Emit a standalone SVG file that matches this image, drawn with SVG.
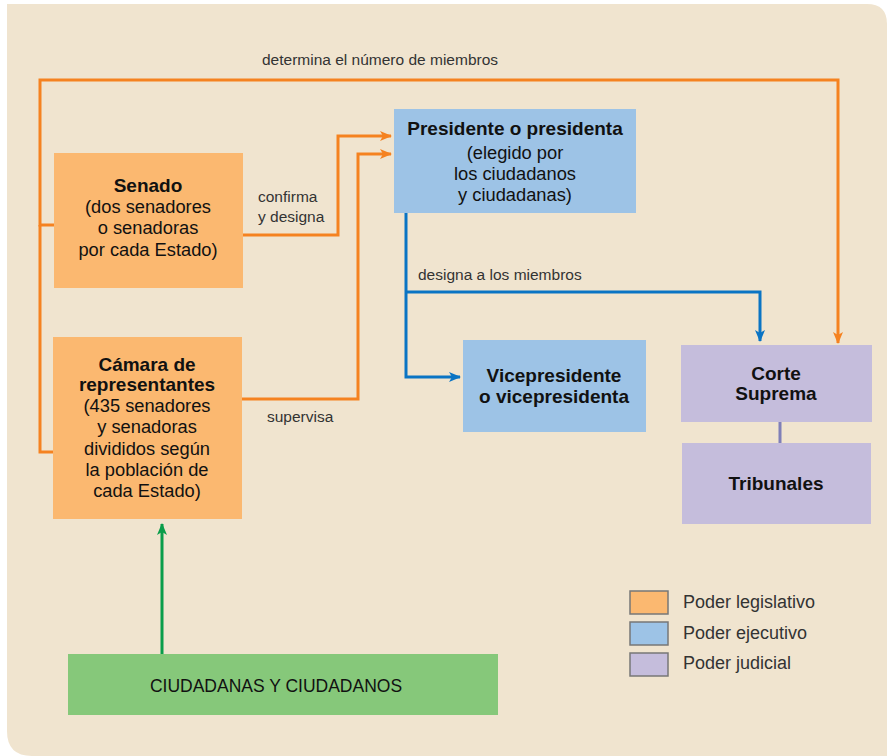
<svg xmlns="http://www.w3.org/2000/svg" width="887" height="756" viewBox="0 0 887 756">
<style>
text{font-family:"Liberation Sans",Arial,sans-serif;fill:#111;text-anchor:middle}
.b{font-weight:bold;font-size:19px}
.n{font-size:18.3px}
.l{font-size:15.5px;fill:#333;text-anchor:start}
.lg{font-size:18px;fill:#333;text-anchor:start}
.or{fill:none;stroke:#f58220;stroke-width:3}
.bl{fill:none;stroke:#0a74c4;stroke-width:3}
.leg{fill:#fbb870}.exe{fill:#9dc3e6}.jud{fill:#c5bddc}
.sw{stroke:#777;stroke-width:1.5}
</style>
<defs>
<marker id="ao" markerWidth="12" markerHeight="10" refX="11" refY="5" orient="auto" markerUnits="userSpaceOnUse"><path d="M0,0 L12,5 L0,10 L3,5 z" fill="#f58220"/></marker>
<marker id="ab" markerWidth="12" markerHeight="10" refX="11" refY="5" orient="auto" markerUnits="userSpaceOnUse"><path d="M0,0 L12,5 L0,10 L3,5 z" fill="#0a74c4"/></marker>
<marker id="ag" markerWidth="12" markerHeight="10" refX="11" refY="5" orient="auto" markerUnits="userSpaceOnUse"><path d="M0,0 L12,5 L0,10 L3,5 z" fill="#0a9d4a"/></marker>
</defs>
<path d="M7,4 H867 Q887,4 887,24 V756 H32 Q7,756 7,731 Z" fill="#f0e4cf"/>
<g id="connectors">
<path class="or" d="M54,225 H40 V80 H838 V343" marker-end="url(#ao)"/>
<path class="or" d="M53,452 H40 V225"/>
<path class="or" d="M243,235 H338 V136 H391" marker-end="url(#ao)"/>
<path class="or" d="M242,399 H358 V154 H391" marker-end="url(#ao)"/>
<path class="bl" d="M406,213 V377 H460" marker-end="url(#ab)"/>
<path class="bl" d="M406,292 H760 V341" marker-end="url(#ab)"/>
<path d="M780,422 V443" stroke="#7f7fb8" stroke-width="3"/>
<path d="M162,654 V524" stroke="#0a9d4a" stroke-width="3" fill="none" marker-end="url(#ag)"/>
<text class="l" x="262" y="65">determina el número de miembros</text>
<text class="l" x="258" y="202">confirma</text>
<text class="l" x="258" y="222">y designa</text>
<text class="l" x="267" y="422">supervisa</text>
<text class="l" x="418" y="280">designa a los miembros</text>
</g>
<g id="senado">
<rect class="leg" x="54" y="153" width="189" height="135"/>
<text class="b" x="148" y="192">Senado</text>
<text class="n" x="148" y="213">(dos senadores</text>
<text class="n" x="148" y="234">o senadoras</text>
<text class="n" x="148" y="256">por cada Estado)</text>
</g>
<g id="camara">
<rect class="leg" x="53" y="337" width="189" height="182"/>
<text class="b" x="147" y="371">Cámara de</text>
<text class="b" x="147" y="391">representantes</text>
<text class="n" x="147" y="412">(435 senadores</text>
<text class="n" x="147" y="433">y senadoras</text>
<text class="n" x="147" y="455">divididos según</text>
<text class="n" x="147" y="476">la población de</text>
<text class="n" x="147" y="497">cada Estado)</text>
</g>
<g id="presidente">
<rect class="exe" x="394" y="109" width="242" height="104"/>
<text class="b" x="515" y="135">Presidente o presidenta</text>
<text class="n" x="515" y="159">(elegido por</text>
<text class="n" x="515" y="180">los ciudadanos</text>
<text class="n" x="515" y="201">y ciudadanas)</text>
</g>
<g id="vicepresidente">
<rect class="exe" x="463" y="340" width="183" height="92"/>
<text class="b" x="554" y="382">Vicepresidente</text>
<text class="b" x="554" y="403">o vicepresidenta</text>
</g>
<g id="corte">
<rect class="jud" x="681" y="345" width="191" height="77"/>
<text class="b" x="776" y="380">Corte</text>
<text class="b" x="776" y="400">Suprema</text>
</g>
<g id="tribunales">
<rect class="jud" x="682" y="443" width="189" height="81"/>
<text class="b" x="776" y="490">Tribunales</text>
</g>
<g id="ciudadanos">
<rect x="68" y="654" width="430" height="61" fill="#86c87a"/>
<text x="276" y="692" style="font-size:17.5px">CIUDADANAS Y CIUDADANOS</text>
</g>
<g id="legend">
<rect class="leg sw" x="630" y="591" width="38" height="23"/>
<rect class="exe sw" x="630" y="622" width="38" height="23"/>
<rect class="jud sw" x="630" y="653" width="38" height="23"/>
<text class="lg" x="683" y="608">Poder legislativo</text>
<text class="lg" x="683" y="639">Poder ejecutivo</text>
<text class="lg" x="683" y="669">Poder judicial</text>
</g>
</svg>
